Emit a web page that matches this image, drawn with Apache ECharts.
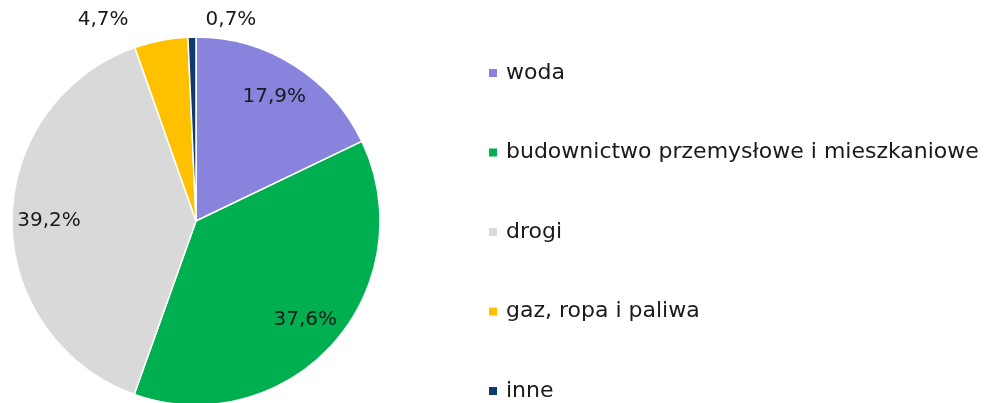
<!DOCTYPE html>
<html>
<head>
<meta charset="utf-8">
<script src="https://cdn.jsdelivr.net/npm/echarts@6/dist/echarts.min.js"></script>
<style>
  html, body { margin: 0; padding: 0; background: #fff; }
  #chart { width: 1008px; height: 403px; }
</style>
</head>
<body>
<div id="chart"></div>
<script>
// udział w strukturze (%)
const categories = ['woda', 'budownictwo przemysłowe i mieszkaniowe', 'drogi', 'gaz, ropa i paliwa', 'inne']
const shares = [17.9, 37.6, 39.2, 4.7, 0.7]
const colors = ['#8884DE', '#00B050', '#D9D9D9', '#FFC000', '#0E3A6E']

const FONT = 'DejaVu Sans'
const chart = echarts.init(document.getElementById('chart'))

const fmt = v => v.toFixed(1).replace('.', ',') + '%'

const pieData = categories.map((name, i) => ({
  name,
  value: shares[i],
  itemStyle: { color: colors[i] }
}))

// przesunięcia etykiet dla małych wycinków (poza kołem)
const outsideShift = { 3: [-60, -1], 4: [39, -1] }

const option = {
  animation: false,
  legend: {
    orient: 'vertical',
    left: 487,
    top: 62,
    padding: 0,
    height: 500,
    itemWidth: 10,
    itemHeight: 10,
    itemGap: 57.5,
    icon: 'rect',
    data: categories,
    textStyle: { fontFamily: FONT, fontSize: 22, color: '#1a1a1a', lineHeight: 20, padding: [0, 0, 0, 3] }
  },
  series: [
    {
      type: 'pie',
      center: [196, 221],
      radius: [0, 184],
      startAngle: 90,
      clockwise: true,
      label: { show: false },
      labelLine: { show: false },
      itemStyle: { borderColor: '#fff', borderWidth: 1.5 },
      emphasis: { disabled: true },
      data: pieData
    },
    {
      // warstwa samych etykiet
      type: 'pie',
      center: [196, 221],
      radius: [104, 184],
      startAngle: 90,
      clockwise: true,
      silent: true,
      itemStyle: { color: 'transparent' },
      label: {
        show: true,
        position: 'inside',
        fontFamily: FONT,
        fontSize: 20,
        color: '#1a1a1a',
        formatter: p => fmt(p.value)
      },
      labelLine: { show: false },
      labelLayout: p => {
        const s = outsideShift[p.dataIndex]
        if (!s) return {}
        return { x: p.rect.x + p.rect.width / 2 + s[0], y: 20, align: 'center', verticalAlign: 'middle' }
      },
      data: categories.map((name, i) => ({ name: name + ' ', value: shares[i] }))
    }
  ]
}

chart.setOption(option)
</script>
</body>
</html>
